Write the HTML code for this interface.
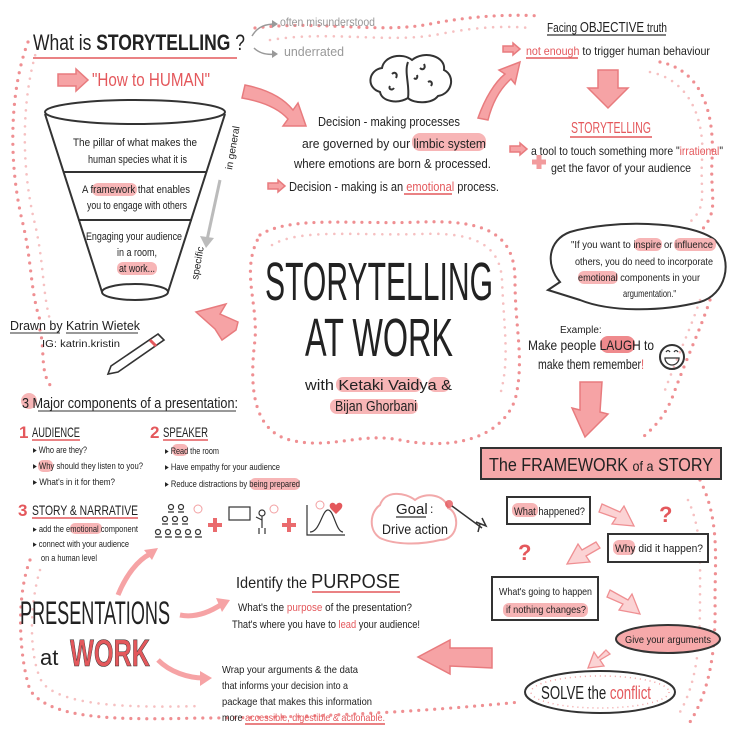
<!DOCTYPE html>
<html><head><meta charset="utf-8"><style>
html,body{margin:0;padding:0;background:#fff}
svg{display:block}
text{font-family:"Liberation Sans Narrow","Liberation Sans",sans-serif;fill:#222}
.r{fill:#e4585c}
.g{fill:#999}
.dot{fill:none;stroke:#ef8f92;stroke-width:3.2;stroke-linecap:round;stroke-dasharray:0 8}
.dot2{fill:none;stroke:#f6c0c1;stroke-width:2.6;stroke-linecap:round;stroke-dasharray:0 8}
.hl{fill:#f7b5b6}
.ln{stroke:#333;stroke-width:2;fill:none}
.pa{fill:#f6a3a5;stroke:#e87b7e;stroke-width:1.5}
.ul{stroke:#e4585c;stroke-width:1.5}
</style></head><body>
<svg width="736" height="736" viewBox="0 0 736 736" xmlns="http://www.w3.org/2000/svg">
<rect width="736" height="736" fill="#fff"/>
<path class="dot" d="M28 42 C10 90 8 160 22 220 C32 260 30 290 40 320"/>
<path class="dot2" d="M40 40 C22 90 20 160 34 220 C44 260 42 290 50 320"/>
<path class="dot" d="M255 28 C320 20 380 34 430 24 C470 16 510 14 540 16"/>
<path class="dot2" d="M270 40 C330 30 390 44 440 34 C480 26 510 26 530 28"/>
<path class="dot" d="M660 62 C700 70 715 110 712 160 C710 200 720 210 700 232"/>
<path class="dot2" d="M650 72 C690 80 705 120 702 160 C700 195 708 205 690 222"/>
<path class="dot" d="M710 300 C700 330 690 350 675 390 C665 420 650 430 640 440"/>
<path class="dot2" d="M700 300 C690 330 680 350 665 390"/>
<path class="dot" d="M260 235 C290 215 360 225 420 222 C480 220 515 230 515 280 C515 330 525 360 515 400 C500 440 450 450 400 440 C360 432 330 450 290 440 C250 430 250 380 255 340 C258 300 240 270 260 235"/>
<path class="dot2" d="M272 245 C300 228 360 236 420 234 C470 232 500 242 502 280 C504 330 510 360 500 395"/>
<path class="dot" d="M40 330 C45 350 40 370 50 385"/>
<path class="dot" d="M700 480 C720 520 715 560 715 600 C716 650 710 690 690 722"/>
<path class="dot2" d="M688 500 C702 530 700 560 700 600 C700 640 698 680 680 712"/>
<path class="dot" d="M30 560 C15 600 20 660 30 690 C50 720 120 720 200 718 C300 718 420 712 520 702"/>
<path class="dot2" d="M40 570 C28 610 30 660 42 682 C60 706 130 708 200 706"/>
<!-- top left title -->
<text x="33" y="50" font-size="22" textLength="212" lengthAdjust="spacingAndGlyphs">What is <tspan font-weight="bold">STORYTELLING</tspan> ?</text>
<line x1="33" y1="58" x2="237" y2="58" class="ul" stroke-width="2.5"/>
<path d="M252 36 C258 26 266 24 276 24" stroke="#999" fill="none" stroke-width="1.5"/><path d="M272 20 L278 24 L272 28Z" fill="#999"/>
<path d="M254 48 C260 54 268 55 276 54" stroke="#999" fill="none" stroke-width="1.5"/><path d="M272 50 L278 54 L272 58Z" fill="#999"/>
<text x="280" y="26" font-size="12" class="g" textLength="95" lengthAdjust="spacingAndGlyphs">often misunderstood</text>
<text x="284" y="56" font-size="13" class="g" textLength="60" lengthAdjust="spacingAndGlyphs">underrated</text>
<path class="pa" d="M58 74 L76 74 L76 69 L88 80 L76 91 L76 86 L58 86Z"/>
<text x="92" y="86" font-size="18" class="r" textLength="118" lengthAdjust="spacingAndGlyphs">"How to HUMAN"</text>
<!-- funnel -->
<ellipse cx="135" cy="112" rx="90" ry="12" class="ln"/>
<path class="ln" d="M45 114 L102 292 M225 114 L168 292 M63 172 L207 172 M78 220 L192 220"/>
<ellipse cx="135" cy="292" rx="33" ry="8" class="ln"/>
<rect x="92" y="183" width="45" height="13" rx="6" class="hl"/>
<rect x="117" y="262" width="40" height="13" rx="6" class="hl"/>
<g font-size="11" lengthAdjust="spacingAndGlyphs">
<text x="73" y="146" textLength="124" lengthAdjust="spacingAndGlyphs">The pillar of what makes the</text>
<text x="88" y="163" textLength="99" lengthAdjust="spacingAndGlyphs">human species what it is</text>
<text x="82" y="193" textLength="108" lengthAdjust="spacingAndGlyphs">A framework that enables</text>
<text x="87" y="209" textLength="100" lengthAdjust="spacingAndGlyphs">you to engage with others</text>
<text x="86" y="240" textLength="96" lengthAdjust="spacingAndGlyphs">Engaging your audience</text>
<text x="117" y="256" textLength="40" lengthAdjust="spacingAndGlyphs">in a room,</text>
<text x="119" y="272" textLength="36" lengthAdjust="spacingAndGlyphs">at work...</text>
</g>
<text x="0" y="0" font-size="10" transform="translate(232 170) rotate(-80)">in general</text>
<text x="0" y="0" font-size="10" transform="translate(198 280) rotate(-80)">specific</text>
<path d="M220 180 L207 240" stroke="#bbb" stroke-width="3"/><path d="M200 236 L206 248 L214 238Z" fill="#bbb"/>
<path class="pa" d="M245 85 C270 90 285 100 293 110 L298 103 L306 126 L283 126 L288 119 C280 110 265 102 242 98Z"/>
<!-- brain -->
<g class="ln" stroke-width="1.8">
<path d="M380 92 C366 88 368 70 382 68 C384 56 402 52 412 60 C424 50 446 56 444 70 C456 76 452 94 438 96 C432 104 414 104 408 98 C398 104 382 102 380 92Z" fill="#fff"/>
<path d="M408 62 C404 72 410 86 408 98" />
<path d="M392 74 c3 -3 6 0 4 4 M420 68 c3 3 6 0 4 -4 M428 82 c3 -2 5 1 3 4 M390 86 c-2 3 2 5 4 2 M414 78 c2 2 4 0 3 -3"/>
</g>
<rect x="412" y="133" width="74" height="18" rx="8" class="hl"/>
<g font-size="12.5">
<text x="318" y="126" textLength="142" lengthAdjust="spacingAndGlyphs">Decision - making processes</text>
<text x="302" y="148" textLength="184" lengthAdjust="spacingAndGlyphs">are governed by our limbic system</text>
<text x="294" y="168" textLength="197" lengthAdjust="spacingAndGlyphs">where emotions are born &amp; processed.</text>
</g>
<path class="pa" d="M268 183 L278 183 L278 180 L285 186 L278 192 L278 189 L268 189Z" stroke-width="1"/>
<text x="289" y="191" font-size="12.5" textLength="210" lengthAdjust="spacingAndGlyphs">Decision - making is an <tspan class="r">emotional</tspan> process.</text>
<line x1="404" y1="194" x2="452" y2="194" class="ul"/>
<path class="pa" d="M478 118 C485 98 495 82 505 74 L499 70 L520 62 L515 84 L511 79 C502 87 493 100 488 120Z"/>
<!-- top right -->
<text x="547" y="32" font-size="13" textLength="120" lengthAdjust="spacingAndGlyphs">Facing <tspan font-size="15">OBJECTIVE</tspan> truth</text>
<line x1="547" y1="35" x2="666" y2="35" stroke="#333" stroke-width="1.2"/>
<path class="pa" d="M503 46 L513 46 L513 43 L520 49 L513 55 L513 52 L503 52Z" stroke-width="1"/>
<text x="526" y="55" font-size="12" textLength="184" lengthAdjust="spacingAndGlyphs"><tspan class="r">not enough</tspan> to trigger human behaviour</text>
<line x1="526" y1="58" x2="578" y2="58" class="ul"/>
<path class="pa" d="M598 70 L618 70 L618 88 L628 88 L608 108 L588 88 L598 88Z"/>
<text x="571" y="133" font-size="16" class="r" textLength="80" lengthAdjust="spacingAndGlyphs">STORYTELLING</text>
<line x1="570" y1="137" x2="652" y2="137" class="ul"/>
<path class="pa" d="M510 146 L520 146 L520 143 L527 149 L520 155 L520 152 L510 152Z" stroke-width="1"/>
<text x="531" y="155" font-size="12" textLength="192" lengthAdjust="spacingAndGlyphs">a tool to touch something more "<tspan class="r">irrational</tspan>"</text>
<path d="M532 162 h14 M539 155 v14" stroke="#f29b9d" stroke-width="5"/>
<text x="551" y="172" font-size="12" textLength="140" lengthAdjust="spacingAndGlyphs">get the favor of your audience</text>
<!-- center title -->
<text x="265" y="300" font-size="54" textLength="228" lengthAdjust="spacingAndGlyphs">STORYTELLING</text>
<text x="305" y="356" font-size="54" textLength="148" lengthAdjust="spacingAndGlyphs">AT WORK</text>
<rect x="336" y="377" width="86" height="15" rx="7" class="hl"/>
<rect x="428" y="377" width="22" height="15" rx="7" class="hl"/>
<text x="305" y="390" font-size="15" textLength="147" lengthAdjust="spacingAndGlyphs">with Ketaki Vaidya &amp;</text>
<rect x="330" y="399" width="88" height="15" rx="7" class="hl"/>
<text x="335" y="411" font-size="15" textLength="82" lengthAdjust="spacingAndGlyphs">Bijan Ghorbani</text>
<!-- speech bubble -->
<path class="ln" stroke-width="2.2" d="M570 232 C610 220 690 220 715 240 C735 262 725 295 700 302 C660 312 610 312 580 300 L548 290 L560 282 C545 265 548 240 570 232Z" fill="#fff"/>
<rect x="634" y="238" width="28" height="13" rx="6" class="hl"/><rect x="674" y="238" width="42" height="13" rx="6" class="hl"/>
<rect x="578" y="271" width="40" height="13" rx="6" class="hl"/>
<g font-size="10.5">
<text x="571" y="248" textLength="142" lengthAdjust="spacingAndGlyphs">"If you want to inspire or influence</text>
<text x="575" y="265" textLength="138" lengthAdjust="spacingAndGlyphs">others, you do need to incorporate</text>
<text x="578" y="281" textLength="122" lengthAdjust="spacingAndGlyphs">emotional components in your</text>
<text x="623" y="297" textLength="53" lengthAdjust="spacingAndGlyphs">argumentation."</text>
</g>
<text x="560" y="333" font-size="10">Example:</text>
<rect x="600" y="336" width="35" height="17" rx="8" fill="#ef8a8d"/>
<text x="528" y="350" font-size="14" textLength="126" lengthAdjust="spacingAndGlyphs">Make people LAUGH to</text>
<text x="538" y="369" font-size="14" textLength="106" lengthAdjust="spacingAndGlyphs">make them remember<tspan class="r">!</tspan></text>
<circle cx="672" cy="357" r="12" class="ln" stroke-width="1.5"/>
<path d="M665 358 a7 7 0 0 0 14 0Z M666 352 q2 -3 4 0 M674 352 q2 -3 4 0" stroke="#333" stroke-width="1.3" fill="none"/>
<path class="pa" d="M580 382 L602 382 L600 412 L608 414 L585 437 L572 408 L580 410Z"/>
<!-- framework -->
<rect x="481" y="448" width="240" height="31" fill="#f6a9aa" stroke="#333" stroke-width="2"/>
<text x="489" y="471" font-size="18" textLength="224" lengthAdjust="spacingAndGlyphs">The FRAMEWORK <tspan font-size="14">of a</tspan> STORY</text>
<rect x="507" y="497" width="83" height="27" fill="#fff" stroke="#333" stroke-width="2"/>
<rect x="512" y="503" width="26" height="14" rx="6" class="hl"/>
<text x="514" y="515" font-size="11" textLength="71" lengthAdjust="spacingAndGlyphs">What happened?</text>
<rect x="608" y="534" width="100" height="28" fill="#fff" stroke="#333" stroke-width="2"/>
<rect x="613" y="540" width="22" height="15" rx="6" class="hl"/>
<text x="615" y="552" font-size="11" textLength="88" lengthAdjust="spacingAndGlyphs">Why did it happen?</text>
<rect x="492" y="577" width="106" height="43" fill="#fff" stroke="#333" stroke-width="2"/>
<rect x="503" y="603" width="85" height="14" rx="6" class="hl"/>
<text x="499" y="595" font-size="10.5" textLength="93" lengthAdjust="spacingAndGlyphs">What's going to happen</text>
<text x="506" y="613" font-size="10.5" textLength="80" lengthAdjust="spacingAndGlyphs">if nothing changes?</text>
<ellipse cx="668" cy="639" rx="52" ry="14" fill="#f6a9aa" stroke="#333" stroke-width="2"/>
<text x="625" y="643" font-size="10.5" textLength="86" lengthAdjust="spacingAndGlyphs">Give your arguments</text>
<ellipse cx="600" cy="692" rx="75" ry="21" fill="#fff" stroke="#333" stroke-width="2"/>
<ellipse cx="600" cy="692" rx="69" ry="16" fill="none" stroke="#f2a0a2" stroke-width="1.5" stroke-dasharray="1 4"/>
<text x="541" y="699" font-size="18" textLength="110" lengthAdjust="spacingAndGlyphs">SOLVE the <tspan class="r">conflict</tspan></text>
<g fill="#fbd3d4" stroke="#ef8f92" stroke-width="1.3">
<path d="M602 504 L620 512 L624 506 L634 526 L612 524 L616 518 L599 512Z"/>
<path d="M596 542 L582 550 L578 544 L567 564 L590 562 L586 556 L600 548Z"/>
<path d="M610 590 L628 600 L632 594 L640 614 L619 610 L623 604 L607 597Z"/>
<path d="M606 650 L598 658 L594 652 L588 668 L604 666 L600 660 L610 654Z"/>
</g>
<text x="518" y="560" font-size="22" class="r" font-weight="bold">?</text>
<text x="659" y="522" font-size="22" class="r" font-weight="bold">?</text>
<path class="pa" d="M492 648 L450 648 L450 640 L418 657 L450 674 L450 666 L492 668Z"/>
<!-- goal -->
<path d="M380 505 C385 490 405 492 415 500 C425 492 445 494 448 508 C460 512 460 540 440 540 C420 545 395 545 380 538 C368 530 370 512 380 505Z" fill="#fff" stroke="#f2a9aa" stroke-width="2"/>
<text x="396" y="514" font-size="15">Goal</text><line x1="396" y1="517" x2="426" y2="517" stroke="#333" stroke-width="1.2"/><text x="430" y="513" font-size="12">:</text>
<text x="382" y="534" font-size="14" textLength="66" lengthAdjust="spacingAndGlyphs">Drive action</text>
<circle cx="449" cy="504" r="4" fill="#e4585c" opacity=".8"/>
<path d="M452 506 L482 528 M476 522 l10 4 l-4 -8 M480 524 l-2 8" stroke="#333" stroke-width="1.5" fill="none"/>
<!-- drawn by -->
<text x="10" y="330" font-size="13" textLength="130" lengthAdjust="spacingAndGlyphs">Drawn by  Katrin Wietek</text>
<line x1="10" y1="333" x2="60" y2="333" stroke="#333"/><line x1="66" y1="333" x2="138" y2="333" stroke="#333"/>
<text x="42" y="347" font-size="10" textLength="78" lengthAdjust="spacingAndGlyphs">IG: katrin.kristin</text>
<path d="M158 334 L164 340 L118 372 L108 374 L111 366Z" fill="#fff" stroke="#333" stroke-width="1.6"/>
<path d="M150 340 L156 346" stroke="#e4585c" stroke-width="3"/>
<path class="pa" d="M236 326 L222 336 L215 325 L196 308 L226 300 L220 310 L238 318Z" transform="translate(0 4)"/>
<!-- 3 major components -->
<circle cx="29" cy="401" r="8" class="hl"/>
<text x="22" y="408" font-size="15" textLength="216" lengthAdjust="spacingAndGlyphs">3 Major components of a presentation:</text>
<line x1="38" y1="411" x2="236" y2="411" stroke="#333"/>
<text x="19" y="438" font-size="17" class="r" font-weight="bold">1</text>
<text x="32" y="437" font-size="14" textLength="48" lengthAdjust="spacingAndGlyphs">AUDIENCE</text>
<line x1="32" y1="440" x2="80" y2="440" class="ul"/>
<text x="150" y="438" font-size="17" class="r" font-weight="bold">2</text>
<text x="163" y="437" font-size="14" textLength="45" lengthAdjust="spacingAndGlyphs">SPEAKER</text>
<line x1="163" y1="440" x2="208" y2="440" class="ul"/>
<rect x="38" y="460" width="15" height="12" rx="5" class="hl"/>
<rect x="172" y="444" width="16" height="12" rx="5" class="hl"/>
<rect x="250" y="478" width="50" height="12" rx="5" class="hl"/>
<rect x="70" y="523" width="32" height="11" rx="5" class="hl"/>
<g font-size="9.5">
<text x="33" y="453" textLength="54" lengthAdjust="spacingAndGlyphs">▸ Who are they?</text>
<text x="33" y="469" textLength="110" lengthAdjust="spacingAndGlyphs">▸ Why should they listen to you?</text>
<text x="33" y="485" textLength="82" lengthAdjust="spacingAndGlyphs">▸ What's in it for them?</text>
<text x="165" y="454" textLength="54" lengthAdjust="spacingAndGlyphs">▸ Read the room</text>
<text x="165" y="470" textLength="115" lengthAdjust="spacingAndGlyphs">▸ Have empathy for your audience</text>
<text x="165" y="487" textLength="135" lengthAdjust="spacingAndGlyphs">▸ Reduce distractions by being prepared</text>
</g>
<text x="18" y="516" font-size="17" class="r" font-weight="bold">3</text>
<text x="32" y="515" font-size="14" textLength="106" lengthAdjust="spacingAndGlyphs">STORY &amp; NARRATIVE</text>
<line x1="32" y1="518" x2="138" y2="518" class="ul"/>
<g font-size="9">
<text x="33" y="532" textLength="105" lengthAdjust="spacingAndGlyphs">▸ add the emotional component</text>
<text x="33" y="547" textLength="96" lengthAdjust="spacingAndGlyphs">▸ connect with your audience</text>
<text x="41" y="561" textLength="56" lengthAdjust="spacingAndGlyphs">on a human level</text>
</g>
<!-- icons -->
<g fill="none" stroke="#333" stroke-width="1.2">
<path d="M168 512 h6 M178 512 h6 M162 524 h6 M172 524 h6 M182 524 h6 M155 537 h7 M165 537 h7 M175 537 h7 M185 537 h7 M195 537 h7"/>
<circle cx="171" cy="507" r="2.5"/><circle cx="181" cy="507" r="2.5"/>
<circle cx="165" cy="519" r="2.5"/><circle cx="175" cy="519" r="2.5"/><circle cx="185" cy="519" r="2.5"/>
<circle cx="158" cy="532" r="2.5"/><circle cx="168" cy="532" r="2.5"/><circle cx="178" cy="532" r="2.5"/><circle cx="188" cy="532" r="2.5"/><circle cx="198" cy="532" r="2.5"/>
<rect x="229" y="507" width="21" height="13"/>
<circle cx="262" cy="513" r="3"/><path d="M262 516 v12 M259 528 v6 M265 528 v6 M262 520 l-6 -3"/>
<path d="M307 505 v30 h38 M310 532 C320 532 322 510 328 510 C334 510 336 532 343 532"/>
</g>
<circle cx="198" cy="509" r="4" fill="none" stroke="#f2a0a2"/><circle cx="274" cy="509" r="4" fill="none" stroke="#f2a0a2"/><circle cx="320" cy="505" r="4" fill="none" stroke="#f2a0a2"/>
<path d="M208 525 h14 M215 518 v14 M282 525 h14 M289 518 v14" stroke="#ea6b6e" stroke-width="4"/>
<path d="M336 505 c-3 -5 -9 -1 -5 4 l5 5 l5 -5 c4 -5 -2 -9 -5 -4Z" fill="#e4585c"/>
<path d="M118 595 C126 575 138 560 150 554" stroke="#f6a3a5" stroke-width="5" fill="none"/><path d="M144 550 L158 548 L152 560Z" fill="#f6a3a5"/>
<!-- presentations -->
<text x="20" y="624" font-size="32" textLength="150" lengthAdjust="spacingAndGlyphs">PRESENTATIONS</text>
<text x="40" y="665" font-size="22">at</text>
<text x="70" y="666" font-size="38" class="r" font-weight="bold" textLength="80" lengthAdjust="spacingAndGlyphs" stroke="#333" stroke-width=".6">WORK</text>
<path d="M180 615 C195 618 210 612 222 604" stroke="#f6a3a5" stroke-width="5" fill="none"/><path d="M216 598 L230 600 L222 612Z" fill="#f6a3a5"/>
<path d="M158 660 C170 672 188 678 204 678" stroke="#f6a3a5" stroke-width="5" fill="none"/><path d="M200 671 L212 678 L200 686Z" fill="#f6a3a5"/>
<text x="236" y="588" font-size="16" textLength="164" lengthAdjust="spacingAndGlyphs">Identify the <tspan font-size="20">PURPOSE</tspan></text>
<line x1="312" y1="592" x2="400" y2="592" class="ul"/>
<text x="238" y="611" font-size="11" textLength="174" lengthAdjust="spacingAndGlyphs">What's the <tspan class="r">purpose</tspan> of the presentation?</text>
<text x="232" y="628" font-size="11" textLength="188" lengthAdjust="spacingAndGlyphs">That's where you have to <tspan class="r">lead</tspan> your audience!</text>
<g font-size="10.5">
<text x="222" y="673" textLength="136" lengthAdjust="spacingAndGlyphs">Wrap your arguments &amp; the data</text>
<text x="222" y="689" textLength="126" lengthAdjust="spacingAndGlyphs">that informs your decision into a</text>
<text x="222" y="705" textLength="150" lengthAdjust="spacingAndGlyphs">package that makes this information</text>
<text x="222" y="721" textLength="163" lengthAdjust="spacingAndGlyphs">more <tspan class="r">accessible, digestible &amp; actionable.</tspan></text>
</g>
<line x1="245" y1="724" x2="385" y2="724" class="ul"/>
</svg>
</body></html>
